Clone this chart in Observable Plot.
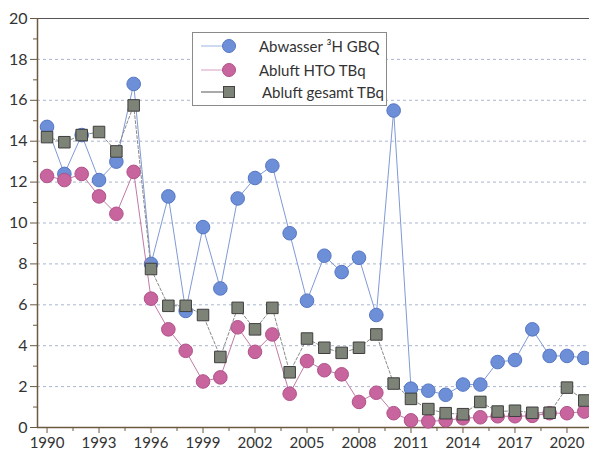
<!DOCTYPE html>
<html><head><meta charset="utf-8">
<script src="https://cdn.jsdelivr.net/npm/d3@7"></script>
<script src="https://cdn.jsdelivr.net/npm/@observablehq/plot@0.6"></script>
<style>
body{margin:0;background:#fff;font-family:Lato,"Open Sans",sans-serif;}
#wrap{position:relative;width:589px;height:457px;}
#legend{position:absolute;left:192px;top:32px;width:195px;height:74px;border:1px solid #8a8a8a;background:#fff;box-sizing:border-box;}
#legend .row{position:absolute;left:0;height:22px;display:flex;align-items:center;font-size:15px;color:#333;}
#legend svg{margin-left:6px;margin-right:20px;}
</style></head>
<body><div id="wrap"><div id="chart"></div>
<div id="legend">
 <div class="row" style="top:2px"><svg width="40" height="20"><line x1="2" x2="26" y1="10" y2="10" stroke="#9fb3e0"/><circle cx="30" cy="10" r="6.5" fill="#6d8fd8" stroke="#5676c4"/></svg><span>Abwasser ³H GBQ</span></div>
 <div class="row" style="top:26px"><svg width="40" height="20"><line x1="2" x2="26" y1="10" y2="10" stroke="#d6a0c2"/><circle cx="30" cy="10" r="6.5" fill="#c8649e" stroke="#b05289"/></svg><span>Abluft HTO TBq</span></div>
 <div class="row" style="top:48px"><svg width="40" height="20"><line x1="2" x2="26" y1="10" y2="10" stroke="#555"/><rect x="24.5" y="4.5" width="11" height="11" fill="#7d8377" stroke="#444"/></svg><span style="margin-left:3px">Abluft gesamt TBq</span></div>
</div></div>
<script>
const years = d3.range(1990, 2022);
const abwasser = [14.7,12.4,14.3,12.1,13.0,16.8,8.0,11.3,5.7,9.8,6.8,11.2,12.2,12.8,9.5,6.2,8.4,7.6,8.3,5.5,15.5,1.9,1.8,1.6,2.1,2.1,3.2,3.3,4.8,3.5,3.5,3.4];
const abluftHTO = [12.3,12.1,12.4,11.3,10.45,12.5,6.3,4.8,3.75,2.25,2.45,4.9,3.7,4.55,1.65,3.25,2.8,2.6,1.25,1.7,0.7,0.35,0.3,0.35,0.45,0.5,0.55,0.55,0.57,0.7,0.7,0.78];
const abluftGesamt = [14.2,13.95,14.3,14.45,13.5,15.75,7.75,5.95,5.95,5.5,3.45,5.85,4.8,5.85,2.7,4.35,3.9,3.65,3.9,4.55,2.15,1.4,0.9,0.7,0.65,1.25,0.78,0.82,0.72,0.72,1.95,1.32];
const yMajor = d3.range(0, 21, 2);
const yMinor = d3.range(1, 20, 2);
const xMajor = d3.range(1990, 2022, 3);
const xMinor = d3.range(1991.5, 2022, 3);
const gridVals = d3.range(2, 20, 2);
const xDomain = [1989.45, 2021.3];

const mk = (vals) => years.map((y, i) => ({year: y, v: vals[i]}));
const A = mk(abwasser), H = mk(abluftHTO), G = mk(abluftGesamt);

const chart = Plot.plot({
  width: 589, height: 457,
  marginLeft: 37, marginRight: 0, marginTop: 18, marginBottom: 30,
  style: {fontFamily: "Lato, 'Open Sans', sans-serif", fontSize: "15px", color: "#333", background: "#fff"},
  x: {domain: xDomain},
  y: {domain: [0, 20]},
  marks: [
    Plot.ruleY(gridVals, {stroke: "#aab6d0", strokeDasharray: "3,3", strokeWidth: 1}),
    Plot.ruleY([20], {stroke: "#555", strokeWidth: 1.2}),
    Plot.ruleY([0], {stroke: "#6b5a40", strokeWidth: 1.5}),
    Plot.ruleX([xDomain[0]], {stroke: "#6b5a40", strokeWidth: 1.5}),
    Plot.axisY({ticks: yMajor, tickSize: 7, tickPadding: 3, label: null, stroke: "#6b5a40", fontSize: 16}),
    Plot.axisY({ticks: yMinor, tickSize: 4, text: null, label: null, stroke: "#6b5a40"}),
    Plot.axisX({ticks: xMajor, tickSize: 6, tickPadding: 4, tickFormat: d => String(d), label: null, stroke: "#6b5a40", fontSize: 15}),
    Plot.axisX({ticks: xMinor, tickSize: 4, text: null, label: null, stroke: "#6b5a40"}),
    Plot.line(A, {x: "year", y: "v", stroke: "#7f9ad6", strokeWidth: 1}),
    Plot.dot(A, {x: "year", y: "v", r: 6.8, fill: "#6d8fd8", stroke: "#5676c4", strokeWidth: 1}),
    Plot.line(H, {x: "year", y: "v", stroke: "#c27aa6", strokeWidth: 1}),
    Plot.dot(H, {x: "year", y: "v", r: 6.8, fill: "#c8649e", stroke: "#b05289", strokeWidth: 1}),
    Plot.line(G, {x: "year", y: "v", stroke: "#8a8a8a", strokeWidth: 1, strokeDasharray: "3,2"}),
    Plot.dot(G, {x: "year", y: "v", symbol: "square", r: 6.5, fill: "#7d8377", stroke: "#3f3f3f", strokeWidth: 1})
  ]
});
document.getElementById("chart").appendChild(chart);
</script></body></html>
